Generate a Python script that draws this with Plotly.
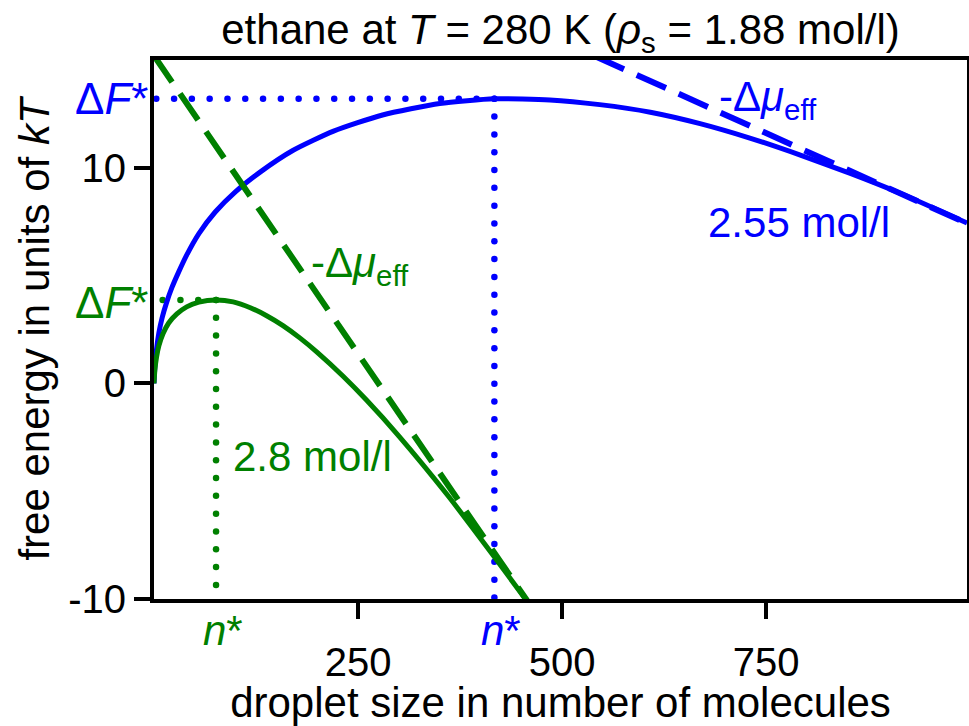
import numpy as np
import plotly.graph_objects as go

# ---- data ----
blue_n = [0, 1, 3, 6, 10, 15, 22, 30, 40, 55, 75, 100, 130, 170, 220, 280, 350, 417,
          485, 546, 608, 669, 730, 791, 853, 914, 996]
blue_F = [0, 0.75, 1.55, 2.35, 3.05, 3.7, 4.45, 5.15, 5.95, 6.95, 7.95, 8.9, 9.8, 10.8,
          11.7, 12.45, 12.98, 13.2, 13.15, 12.93, 12.58, 12.05, 11.38, 10.6, 9.74, 8.82, 7.44]

green_n = [0, 1, 3, 6, 11, 18, 28, 40, 55, 76, 97, 118, 138, 158, 179, 200, 232, 260,
           300, 360, 415, 455]
green_F = [0, 0.6, 1.2, 1.75, 2.3, 2.8, 3.22, 3.55, 3.77, 3.87, 3.78, 3.51, 3.14, 2.68,
           2.10, 1.44, 0.32, -0.76, -2.44, -5.2, -7.95, -10.0]

blue_mu_n = [540, 996]
blue_mu_F = [15.18, 7.42]
green_mu_n = [0, 457]
green_mu_F = [15.2, -10.07]

blue_nstar, blue_Fstar = 417, 13.2
green_nstar, green_Fstar = 76, 3.87

x_ticks = [250, 500, 750]
y_ticks = [-10, 0, 10]
y_ticktext = ["-10", "0", "10"]

BLUE = "#0000FF"
GREEN = "#008000"
FONT = "Liberation Sans, Arial, Helvetica, sans-serif"

# dot spacing of the dotted guide lines (in data units)
step_n = 21.8
step_F = 0.826

fig = go.Figure()

def dots(xs, ys, color):
    fig.add_trace(go.Scatter(x=xs, y=ys, mode="markers",
                             marker=dict(size=6.5, color=color, line=dict(width=0)),
                             hoverinfo="skip", showlegend=False, cliponaxis=False))

# blue guides
bh = blue_nstar - np.arange(0, 20) * step_n
dots(bh, np.full_like(bh, blue_Fstar), BLUE)
bv = blue_Fstar - np.arange(0, 29) * step_F
dots(np.full_like(bv, blue_nstar), bv, BLUE)
# green guides
gh = green_nstar - np.arange(0, 4) * step_n
dots(gh, np.full_like(gh, green_Fstar), GREEN)
gv = green_Fstar - np.arange(0, 17) * step_F
dots(np.full_like(gv, green_nstar), gv, GREEN)

# curves
fig.add_trace(go.Scatter(x=blue_n, y=blue_F, mode="lines",
                         line=dict(color=BLUE, width=5, shape="spline", smoothing=0.6),
                         showlegend=False))
fig.add_trace(go.Scatter(x=green_n, y=green_F, mode="lines",
                         line=dict(color=GREEN, width=5, shape="spline", smoothing=0.6),
                         showlegend=False))
# dashed -Δμ_eff lines
fig.add_trace(go.Scatter(x=blue_mu_n, y=blue_mu_F, mode="lines",
                         line=dict(color=BLUE, width=6, dash="32px,14px"), showlegend=False))
fig.add_trace(go.Scatter(x=green_mu_n, y=green_mu_F, mode="lines",
                         line=dict(color=GREEN, width=6, dash="32px,14px"), showlegend=False))

ann_font = 42
annots = [
    dict(x=252, y=5.49, text="-Δ<i>μ</i><sub>eff</sub>", color=GREEN),
    dict(x=752, y=13.15, text="-Δ<i>μ</i><sub>eff</sub>", color=BLUE),
    dict(x=790, y=7.44, text="2.55 mol/l", color=BLUE),
    dict(x=194, y=-3.4, text="2.8 mol/l", color=GREEN),
]
for a in annots:
    fig.add_annotation(x=a["x"], y=a["y"], xref="x", yref="y", text=a["text"],
                       showarrow=False, xanchor="center", yanchor="middle",
                       font=dict(family=FONT, size=ann_font, color=a["color"]))

# ΔF* labels at the left
fig.add_annotation(x=0, y=blue_Fstar, xref="paper", yref="y", text="Δ<i>F</i>*",
                   showarrow=False, xanchor="right", yanchor="middle", xshift=-4,
                   font=dict(family=FONT, size=44, color=BLUE))
fig.add_annotation(x=0, y=green_Fstar, xref="paper", yref="y", text="Δ<i>F</i>*",
                   showarrow=False, xanchor="right", yanchor="middle", xshift=-4, yshift=-3,
                   font=dict(family=FONT, size=44, color=GREEN))
# n* labels below the axis
for ns, col in [(green_nstar, GREEN), (blue_nstar, BLUE)]:
    fig.add_annotation(x=ns, y=0, xref="x", yref="paper", text="<i>n</i>*",
                       showarrow=False, xanchor="center", yanchor="middle",
                       xshift=7, yshift=-31,
                       font=dict(family=FONT, size=42, color=col))

fig.update_layout(
    width=969, height=726,
    margin=dict(l=154, r=2, t=60, b=127),
    plot_bgcolor="white", paper_bgcolor="white",
    font=dict(family=FONT, size=40, color="black"),
    title=dict(text="ethane at <i>T</i> = 280 K (<i>ρ</i><sub>s</sub> = 1.88 mol/l)",
               x=0.5, xref="paper", y=1 - 29 / 726, yref="container",
               xanchor="center", yanchor="middle",
               font=dict(family=FONT, size=42, color="black")),
    xaxis=dict(range=[0, 996], tickvals=x_ticks, ticks="outside", ticklen=16,
               tickwidth=4, tickcolor="black", showline=True, linewidth=4,
               linecolor="black", mirror=True, showgrid=False, zeroline=False,
               ticklabelstandoff=9, automargin=False,
               title=dict(text="droplet size in number of molecules", standoff=6,
                          font=dict(family=FONT, size=42))),
    yaxis=dict(range=[-10, 15], tickvals=y_ticks, ticktext=y_ticktext,
               ticks="outside", ticklen=16, tickwidth=4, tickcolor="black",
               showline=True, linewidth=4, linecolor="black", mirror=True,
               showgrid=False, zeroline=False, automargin=False,
               title=dict(text="free energy in units of <i>kT</i>", standoff=6,
                          font=dict(family=FONT, size=42))),
)

fig.write_html("out.html")
